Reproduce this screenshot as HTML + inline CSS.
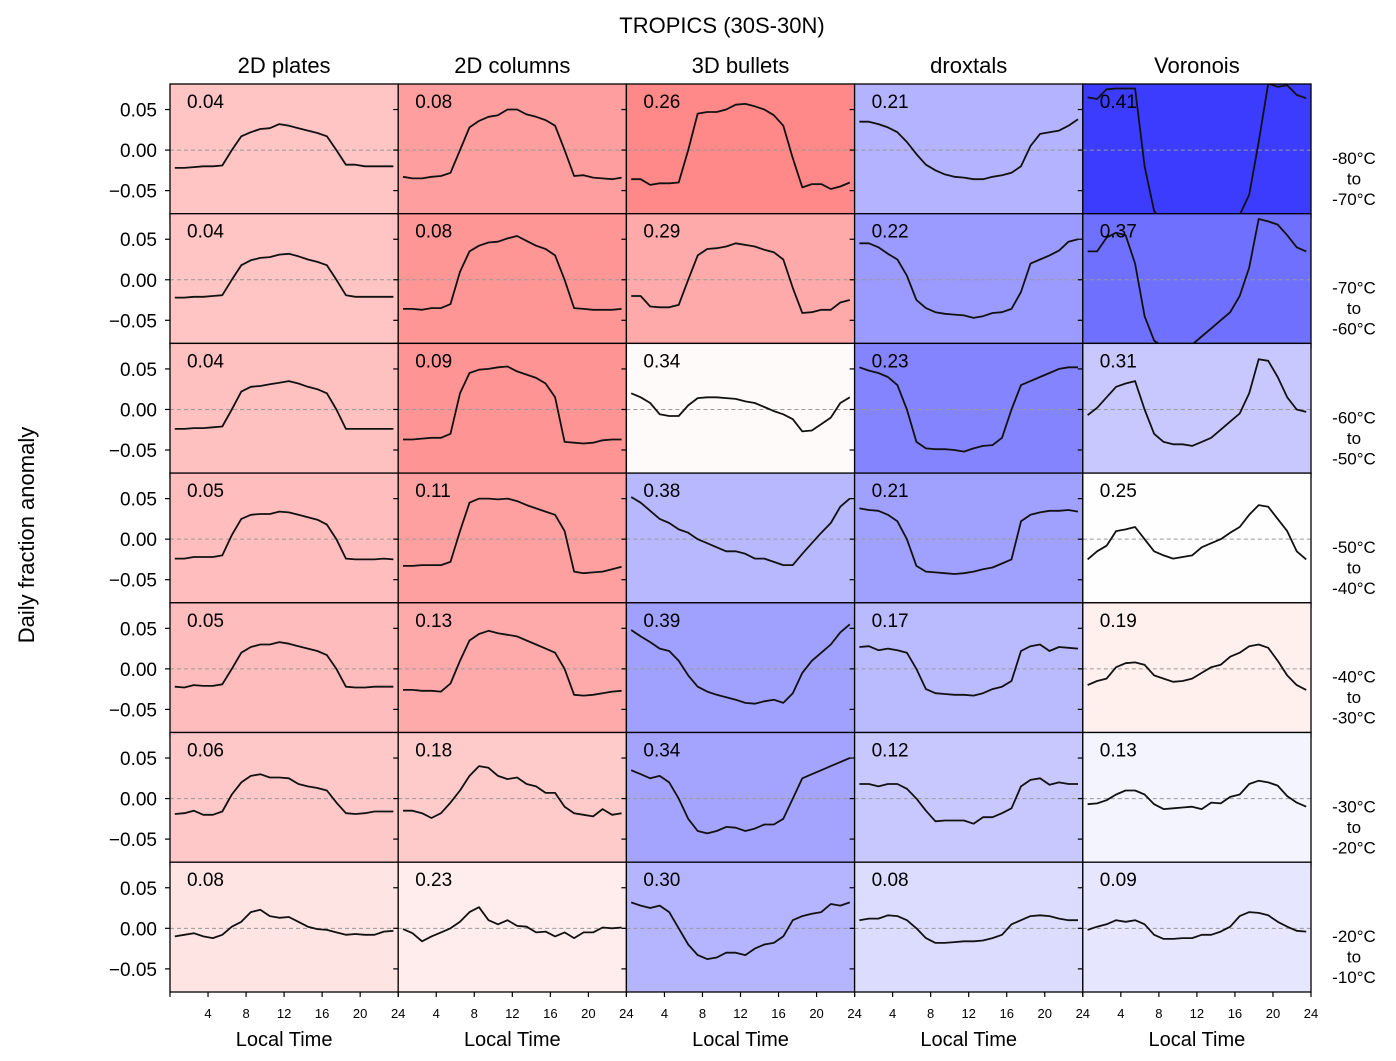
<!DOCTYPE html>
<html><head><meta charset="utf-8">
<style>
body{margin:0;background:#fff;}
svg{display:block;font-family:"Liberation Sans","DejaVu Sans",sans-serif;}
</style></head>
<body>
<svg id="chart" width="1396" height="1061" xmlns="http://www.w3.org/2000/svg"></svg>
<script>
const columnTitles = ["2D plates","2D columns","3D bullets","droxtals","Voronois"];
const rowLabels = [["-80°C","-70°C"],["-70°C","-60°C"],["-60°C","-50°C"],["-50°C","-40°C"],["-40°C","-30°C"],["-30°C","-20°C"],["-20°C","-10°C"]];
const panelScores = [
 ["0.04","0.08","0.26","0.21","0.41"],
 ["0.04","0.08","0.29","0.22","0.37"],
 ["0.04","0.09","0.34","0.23","0.31"],
 ["0.05","0.11","0.38","0.21","0.25"],
 ["0.05","0.13","0.39","0.17","0.19"],
 ["0.06","0.18","0.34","0.12","0.13"],
 ["0.08","0.23","0.30","0.08","0.09"]];
const bgColors = [
 ["#ffc4c4","#ff9e9e","#ff8888","#b3b3ff","#3c3cff"],
 ["#ffc4c4","#ff9696","#ffaaaa","#9a9aff","#7070ff"],
 ["#ffc0c0","#ff9494","#fffafa","#8484ff","#c8c8ff"],
 ["#ffbdbd","#ffa0a0","#b8b8ff","#a0a0ff","#fefeff"],
 ["#ffbcbc","#ffaaaa","#a0a0ff","#babaff","#fff0ee"],
 ["#ffc8c8","#ffcaca","#a4a4ff","#c8c8ff","#f4f4ff"],
 ["#ffe4e4","#ffecec","#b4b4ff","#dcdcff","#e6e6ff"]];
const yTicks = [0.05, 0.00, -0.05];
const yTickLabels = ["0.05","0.00","\u22120.05"];
const xTicks = [0,4,8,12,16,20,24];
const plates = [
 [-0.022,-0.022,-0.021,-0.020,-0.020,-0.019,0.000,0.017,0.022,0.026,0.027,0.032,0.030,0.027,0.024,0.021,0.017,0.000,-0.018,-0.018,-0.020,-0.020,-0.020,-0.020],
 [-0.022,-0.022,-0.021,-0.021,-0.020,-0.019,0.000,0.018,0.024,0.027,0.028,0.031,0.032,0.029,0.025,0.022,0.018,0.000,-0.019,-0.021,-0.021,-0.021,-0.021,-0.021],
 [-0.024,-0.024,-0.023,-0.023,-0.022,-0.021,0.000,0.022,0.028,0.029,0.031,0.033,0.035,0.032,0.028,0.025,0.020,0.000,-0.024,-0.024,-0.024,-0.024,-0.024,-0.024],
 [-0.024,-0.024,-0.022,-0.022,-0.022,-0.020,0.005,0.025,0.030,0.031,0.031,0.034,0.033,0.030,0.027,0.024,0.018,0.000,-0.024,-0.025,-0.025,-0.025,-0.024,-0.025],
 [-0.022,-0.023,-0.020,-0.021,-0.021,-0.019,0.000,0.020,0.027,0.030,0.030,0.033,0.031,0.028,0.025,0.022,0.017,0.000,-0.022,-0.023,-0.023,-0.022,-0.022,-0.022],
 [-0.019,-0.018,-0.015,-0.020,-0.020,-0.016,0.005,0.020,0.028,0.030,0.026,0.026,0.025,0.018,0.015,0.013,0.010,-0.005,-0.018,-0.019,-0.018,-0.016,-0.016,-0.016],
 [-0.010,-0.008,-0.006,-0.010,-0.012,-0.008,0.002,0.008,0.020,0.023,0.015,0.013,0.014,0.008,0.002,-0.001,-0.002,-0.005,-0.008,-0.007,-0.008,-0.008,-0.004,-0.003]];
const columns = [
 [-0.033,-0.035,-0.035,-0.033,-0.032,-0.028,0.000,0.028,0.036,0.041,0.043,0.050,0.050,0.044,0.041,0.037,0.030,0.000,-0.032,-0.031,-0.034,-0.035,-0.036,-0.034],
 [-0.036,-0.036,-0.037,-0.035,-0.035,-0.030,0.010,0.035,0.042,0.046,0.047,0.051,0.054,0.048,0.042,0.038,0.030,0.000,-0.035,-0.036,-0.037,-0.037,-0.037,-0.036],
 [-0.037,-0.037,-0.036,-0.035,-0.035,-0.030,0.020,0.045,0.049,0.050,0.052,0.053,0.047,0.043,0.039,0.032,0.015,-0.040,-0.041,-0.042,-0.041,-0.038,-0.037,-0.037],
 [-0.033,-0.033,-0.032,-0.032,-0.032,-0.028,0.010,0.045,0.050,0.050,0.049,0.050,0.047,0.042,0.038,0.034,0.030,0.010,-0.040,-0.042,-0.041,-0.040,-0.037,-0.034],
 [-0.026,-0.026,-0.027,-0.027,-0.028,-0.018,0.010,0.035,0.043,0.047,0.044,0.042,0.040,0.035,0.030,0.025,0.020,0.000,-0.032,-0.033,-0.032,-0.030,-0.028,-0.027],
 [-0.015,-0.015,-0.018,-0.024,-0.018,-0.005,0.010,0.028,0.040,0.038,0.028,0.024,0.026,0.018,0.015,0.007,0.007,-0.010,-0.018,-0.020,-0.022,-0.013,-0.020,-0.018],
 [-0.001,-0.006,-0.016,-0.010,-0.005,0.000,0.008,0.020,0.026,0.010,0.005,0.010,0.003,0.002,-0.005,-0.004,-0.010,-0.005,-0.012,-0.005,-0.005,0.001,0.000,0.001]];
const bullets = [
 [-0.036,-0.036,-0.043,-0.041,-0.041,-0.040,0.000,0.045,0.047,0.047,0.050,0.056,0.057,0.054,0.050,0.043,0.030,-0.010,-0.046,-0.042,-0.042,-0.048,-0.045,-0.040],
 [-0.020,-0.020,-0.033,-0.034,-0.034,-0.031,0.000,0.030,0.038,0.039,0.041,0.045,0.043,0.041,0.037,0.034,0.025,-0.010,-0.041,-0.040,-0.037,-0.037,-0.028,-0.025],
 [0.020,0.015,0.008,-0.006,-0.008,-0.008,0.005,0.014,0.015,0.015,0.014,0.013,0.010,0.008,0.003,-0.002,-0.006,-0.012,-0.027,-0.026,-0.018,-0.010,0.008,0.015],
 [0.052,0.045,0.035,0.025,0.020,0.012,0.008,0.000,-0.005,-0.010,-0.015,-0.015,-0.018,-0.024,-0.024,-0.028,-0.032,-0.032,-0.018,-0.005,0.008,0.020,0.040,0.050],
 [0.048,0.040,0.033,0.025,0.022,0.010,-0.008,-0.022,-0.028,-0.032,-0.035,-0.038,-0.042,-0.043,-0.040,-0.038,-0.042,-0.030,-0.005,0.010,0.020,0.030,0.045,0.055],
 [0.035,0.030,0.025,0.028,0.020,0.000,-0.025,-0.040,-0.043,-0.040,-0.035,-0.036,-0.040,-0.037,-0.032,-0.032,-0.025,0.000,0.025,0.030,0.035,0.040,0.045,0.050],
 [0.032,0.028,0.025,0.028,0.020,0.000,-0.020,-0.033,-0.038,-0.036,-0.030,-0.030,-0.033,-0.025,-0.020,-0.018,-0.010,0.010,0.015,0.018,0.020,0.030,0.028,0.032]];
const droxtals = [
 [0.035,0.035,0.032,0.028,0.022,0.010,-0.005,-0.018,-0.025,-0.030,-0.033,-0.034,-0.036,-0.036,-0.033,-0.031,-0.028,-0.020,0.005,0.020,0.022,0.024,0.030,0.038],
 [0.045,0.045,0.040,0.032,0.025,0.005,-0.025,-0.035,-0.040,-0.042,-0.043,-0.044,-0.047,-0.045,-0.041,-0.040,-0.036,-0.015,0.020,0.025,0.030,0.036,0.047,0.050],
 [0.052,0.048,0.045,0.040,0.030,0.000,-0.040,-0.048,-0.049,-0.049,-0.050,-0.052,-0.048,-0.045,-0.044,-0.035,0.000,0.030,0.035,0.040,0.045,0.050,0.052,0.052],
 [0.038,0.036,0.035,0.030,0.022,0.000,-0.033,-0.040,-0.041,-0.042,-0.043,-0.042,-0.040,-0.037,-0.035,-0.030,-0.025,0.022,0.030,0.033,0.035,0.035,0.036,0.034],
 [0.027,0.028,0.023,0.025,0.023,0.020,0.000,-0.025,-0.030,-0.031,-0.032,-0.032,-0.033,-0.030,-0.025,-0.022,-0.015,0.022,0.028,0.030,0.022,0.027,0.026,0.025],
 [0.018,0.018,0.015,0.018,0.018,0.012,0.000,-0.015,-0.028,-0.027,-0.027,-0.027,-0.031,-0.023,-0.023,-0.018,-0.012,0.015,0.023,0.025,0.017,0.020,0.018,0.018],
 [0.010,0.012,0.012,0.016,0.015,0.010,0.000,-0.012,-0.018,-0.018,-0.017,-0.016,-0.016,-0.015,-0.012,-0.008,0.005,0.010,0.015,0.016,0.015,0.012,0.010,0.010]];
const voronois = [
 [0.065,0.063,0.075,0.076,0.076,0.076,-0.020,-0.075,-0.090,-0.100,-0.100,-0.100,-0.100,-0.100,-0.100,-0.090,-0.080,-0.055,0.010,0.082,0.078,0.080,0.068,0.064],
 [0.035,0.035,0.052,0.058,0.055,0.020,-0.045,-0.075,-0.083,-0.088,-0.090,-0.080,-0.070,-0.060,-0.050,-0.040,-0.020,0.015,0.075,0.072,0.068,0.055,0.040,0.035],
 [-0.007,0.002,0.015,0.028,0.032,0.035,0.000,-0.030,-0.040,-0.043,-0.043,-0.045,-0.040,-0.035,-0.025,-0.015,-0.005,0.020,0.062,0.060,0.040,0.015,0.000,-0.003],
 [-0.025,-0.015,-0.008,0.010,0.012,0.015,0.000,-0.015,-0.020,-0.024,-0.022,-0.020,-0.010,-0.005,0.000,0.008,0.015,0.030,0.042,0.040,0.025,0.010,-0.015,-0.025],
 [-0.020,-0.015,-0.012,0.002,0.007,0.008,0.005,-0.008,-0.012,-0.016,-0.015,-0.012,-0.005,0.002,0.005,0.015,0.020,0.028,0.030,0.026,0.010,-0.008,-0.020,-0.026],
 [-0.007,-0.006,-0.002,0.005,0.010,0.010,0.005,-0.007,-0.013,-0.012,-0.011,-0.010,-0.013,-0.005,-0.006,0.002,0.005,0.018,0.022,0.020,0.016,0.003,-0.005,-0.010],
 [-0.002,0.002,0.005,0.010,0.008,0.010,0.005,-0.008,-0.013,-0.013,-0.012,-0.012,-0.008,-0.008,-0.004,0.002,0.015,0.020,0.019,0.016,0.008,0.002,-0.003,-0.004]];
const seriesByColumn = [plates, columns, bullets, droxtals, voronois];

const NS = "http://www.w3.org/2000/svg";
const svg = document.getElementById("chart");
const colX = [170, 398.2, 626.4, 854.6, 1082.8, 1311];
const rowY = [84, 213.7, 343.4, 473.1, 602.8, 732.5, 862.2, 992];
const yMin = -0.0785, yMax = 0.0815;
function mk(tag, attrs, parent){ const e=document.createElementNS(NS,tag); for(const k in attrs) e.setAttribute(k,attrs[k]); (parent||svg).appendChild(e); return e; }
function xScale(c, h){ return colX[c] + (h/24)*(colX[c+1]-colX[c]); }
function yScale(r, v){ return rowY[r+1] - (v - yMin)/(yMax - yMin)*(rowY[r+1]-rowY[r]); }

const defs = mk("defs", {});
for (let r=0;r<7;r++){
  for (let c=0;c<5;c++){
    const x0=colX[c], x1=colX[c+1], y0=rowY[r], y1=rowY[r+1];
    const g = mk("g", {});
    
    
    const bg = mk("rect", {x:x0,y:y0,width:x1-x0,height:y1-y0,fill:bgColors[r][c]}, g);
    
    
    const cp = mk("clipPath", {id:"cp"+r+"_"+c}, defs);
    mk("rect", {x:x0,y:y0,width:x1-x0,height:y1-y0}, cp);
    const zl = mk("line", {x1:x0,x2:x1,y1:yScale(r,0),y2:yScale(r,0),stroke:"#999",
      "stroke-width":1,"stroke-dasharray":"4,3"}, g);
    
    
    const data = seriesByColumn[c][r];
    const pts = data.map((v,i)=>xScale(c,i+0.5).toFixed(1)+","+yScale(r,v).toFixed(1)).join(" ");
    const pl = mk("polyline", {points:pts,fill:"none",stroke:"#111","stroke-width":1.8,
      "stroke-linejoin":"round","clip-path":"url(#cp"+r+"_"+c+")"}, g);
    
    
    const sc = mk("text", {x:x0+17,y:y0+24,"font-size":19,fill:"#000"}, g);
    sc.textContent = panelScores[r][c];
    
    
    yTicks.forEach((t,k)=>{
      const yy=yScale(r,t);
      mk("line",{x1:x0-5,x2:x0,y1:yy,y2:yy,stroke:"#000","stroke-width":1.2},g);
      if(c===0){
        const tl=mk("text",{x:x0-13,y:yy+7,"font-size":19,"text-anchor":"end"},g);
        tl.textContent=yTickLabels[k];
        
        
      }
    });
    xTicks.forEach(t=>{
      const xx=xScale(c,t);
      mk("line",{x1:xx,x2:xx,y1:y1,y2:y1+5,stroke:"#000","stroke-width":1.2},g);
      if(r===6 && t>0){
        const tl=mk("text",{x:xx,y:y1+26,"font-size":13,"text-anchor":"middle"},g);
        tl.textContent=String(t);
        
        
      }
    });
    const fr = mk("rect", {x:x0,y:y0,width:x1-x0,height:y1-y0,fill:"none",stroke:"#000","stroke-width":1.3}, g);
    
    
  }
}
columnTitles.forEach((t,c)=>{
  const cx=(colX[c]+colX[c+1])/2;
  const ct=mk("text",{x:cx,y:73,"font-size":22,"text-anchor":"middle"});
  ct.textContent=t;
  
  
  const xl=mk("text",{x:cx,y:1046,"font-size":20,"text-anchor":"middle"});
  xl.textContent="Local Time";
  
  
});
rowLabels.forEach((lab,r)=>{
  const cy=(rowY[r]+rowY[r+1])/2;
  const g=mk("g",{});
  
  
  [lab[0],"to",lab[1]].forEach((s,k)=>{
    const t=mk("text",{x:1354,y:cy+15+k*20.5,"font-size":17,"text-anchor":"middle"},g);
    t.textContent=s;
  });
});
const title=mk("text",{x:722,y:33,"font-size":22,"text-anchor":"middle"});
title.textContent="TROPICS (30S-30N)";


const yt=mk("text",{x:0,y:0,"font-size":22,"text-anchor":"middle",transform:"translate(34,535) rotate(-90)"});
yt.textContent="Daily fraction anomaly";


</script>
</body></html>
